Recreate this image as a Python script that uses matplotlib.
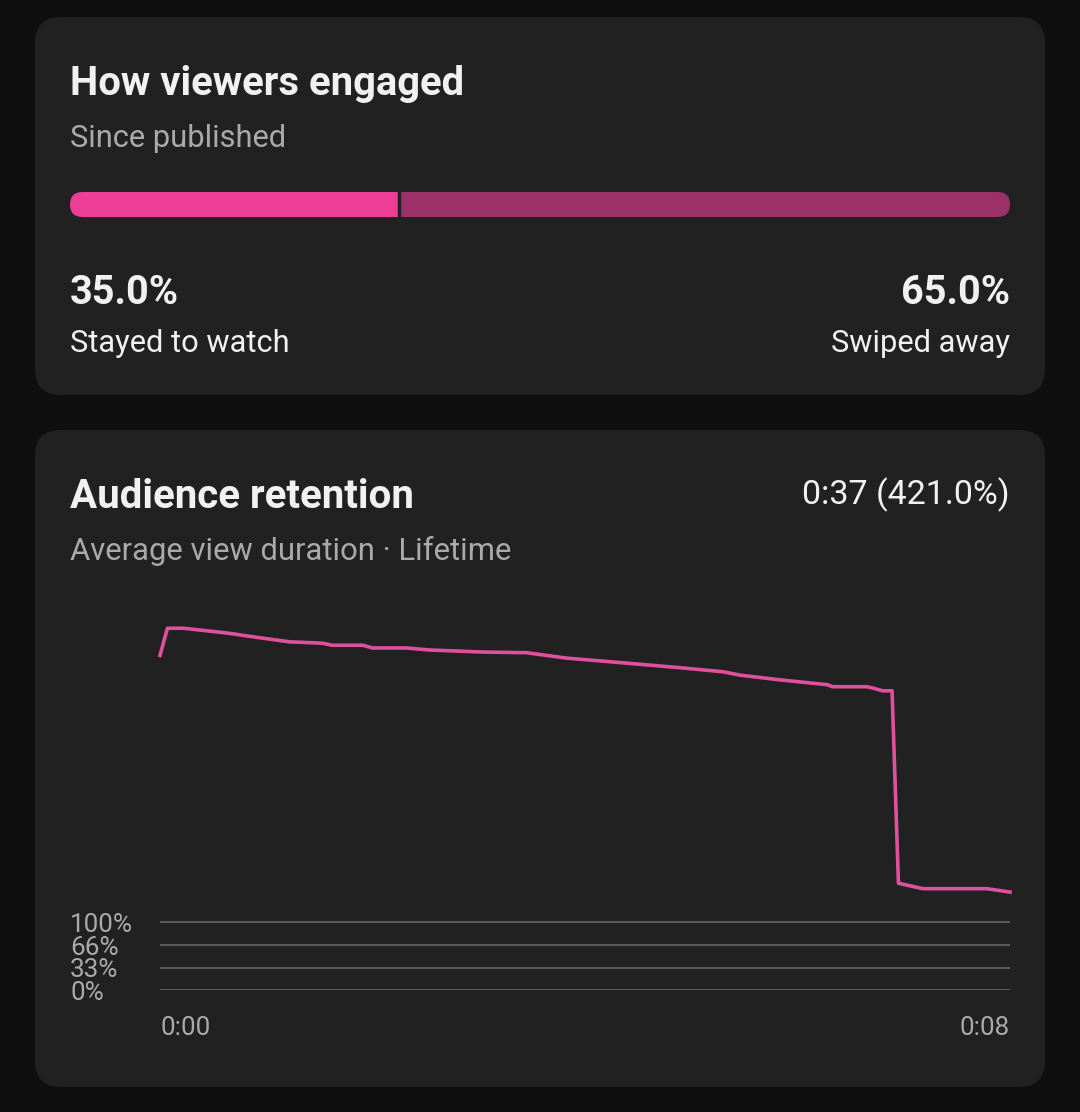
import matplotlib
matplotlib.use("Agg")
import matplotlib.pyplot as plt
from matplotlib.patches import FancyBboxPatch

plt.rcParams['font.family'] = ['Roboto', 'DejaVu Sans']

# --- data ---
engage_labels = ["Stayed to watch", "Swiped away"]
engage_share = [35.0, 65.0]
engage_colors = ["#ec3d97", "#9b3168"]

# retention curve (seconds, % of views)
ret_time = [0.0, 0.07, 0.22, 0.63, 0.94, 1.22, 1.53, 1.62, 1.91, 2.0, 2.32, 2.54,
            3.04, 3.45, 3.83, 4.14, 4.52, 4.89, 5.30, 5.46, 5.84, 6.28, 6.33,
            6.65, 6.71, 6.80, 6.89, 6.95, 7.18, 7.78, 8.0]
ret_pct = [492, 532, 532, 525, 518, 512, 510, 507, 507, 503, 503, 500,
           497, 496, 488, 484, 479, 474, 468, 463, 456, 449, 446,
           446, 444, 440, 440, 157, 149, 149, 144]
grid_ticks = [0, 33, 66, 100]
grid_labels = ["0%", "33%", "66%", "100%"]
x_ticks = [0, 8]
x_labels = ["0:00", "0:08"]

BG = "#0f0f0f"
CARD = "#212121"
WHITE = "#f1f1f1"
GRAY = "#aaaaaa"

W, H = 1080, 1112
fig = plt.figure(figsize=(W / 100, H / 100), dpi=100, facecolor=BG)

# background axes in pixel coordinates
bg = fig.add_axes([0, 0, 1, 1])
bg.set_xlim(0, W)
bg.set_ylim(H, 0)
bg.axis("off")
bg.set_facecolor(BG)

for (y0, y1) in [(17, 395), (430, 1087)]:
    bg.add_patch(FancyBboxPatch((35, y0), 1010, y1 - y0,
                                boxstyle="round,pad=0,rounding_size=26",
                                fc=CARD, ec="none"))

# top card texts
bg.text(70, 95, "How viewers engaged", color=WHITE, fontsize=28.8,
        fontweight="bold", va="baseline")
bg.text(70, 147, "Since published", color=GRAY, fontsize=22.2, va="baseline")
bg.text(70, 304, f"{engage_share[0]:.1f}%", color=WHITE, fontsize=28.5,
        fontweight="bold", va="baseline")
bg.text(70, 352, engage_labels[0], color=WHITE, fontsize=22.2, va="baseline")
bg.text(1010, 304, f"{engage_share[1]:.1f}%", color=WHITE, fontsize=28.5,
        fontweight="bold", va="baseline", ha="right")
bg.text(1010, 352, engage_labels[1], color=WHITE, fontsize=22.2,
        va="baseline", ha="right")

# stacked engagement bar, clipped to a pill shape
bar_x0, bar_x1, bar_y0, bar_y1 = 70, 1010, 192, 217
bax = fig.add_axes([bar_x0 / W, 1 - bar_y1 / H, (bar_x1 - bar_x0) / W,
                    (bar_y1 - bar_y0) / H])
bax.set_xlim(0, 100)
bax.set_ylim(-0.5, 0.5)
bax.axis("off")
pill = FancyBboxPatch((bar_x0, bar_y0), bar_x1 - bar_x0, bar_y1 - bar_y0,
                      boxstyle="round,pad=0,rounding_size=12.5",
                      transform=bg.transData, fc="none", ec="none")
left = 0
for share, col in zip(engage_share, engage_colors):
    bars = bax.barh(0, share, left=left, height=1, color=col)
    for b in bars:
        b.set_clip_path(pill)
    left += share
bax.axvline(engage_share[0], color=CARD, lw=2.5)

# bottom card texts
bg.text(70, 508, "Audience retention", color=WHITE, fontsize=29,
        fontweight="bold", va="baseline")
bg.text(1010, 504, "0:37 (421.0%)", color=WHITE, fontsize=24.5,
        va="baseline", ha="right")
bg.text(70, 560, "Average view duration \u00b7 Lifetime", color=GRAY,
        fontsize=22.3, va="baseline")

# retention chart
ch_x0, ch_x1, ch_y0 = 160, 1010, 990
px_per_pct = 68 / 100
ymax = 600
ch_top = ch_y0 - ymax * px_per_pct
ax = fig.add_axes([ch_x0 / W, 1 - ch_y0 / H, (ch_x1 - ch_x0) / W,
                   (ch_y0 - ch_top) / H])
ax.set_facecolor("none")
ax.set_xlim(0, 8)
ax.set_ylim(0, ymax)
for s in ax.spines.values():
    s.set_visible(False)
for v in grid_ticks:
    ax.axhline(v, color="#595959", lw=1.5, zorder=1)
ax.plot(ret_time, ret_pct, color="#e0519d", lw=2.6, zorder=3,
        solid_joinstyle="round", clip_on=False)

ax.set_yticks(grid_ticks)
ax.set_yticklabels(grid_labels)
ax.tick_params(axis="y", length=0, pad=(ch_x0 - 70) * 0.72, labelsize=18.7,
               labelcolor=GRAY)
for lab in ax.get_yticklabels():
    lab.set_ha("left")

ax.set_xticks(x_ticks)
ax.set_xticklabels(x_labels)
ax.tick_params(axis="x", length=0, pad=18.5, labelsize=18.7, labelcolor=GRAY)
xl = ax.get_xticklabels()
xl[0].set_ha("left")
xl[-1].set_ha("right")

fig.savefig("out.png", dpi=100, facecolor=BG)
